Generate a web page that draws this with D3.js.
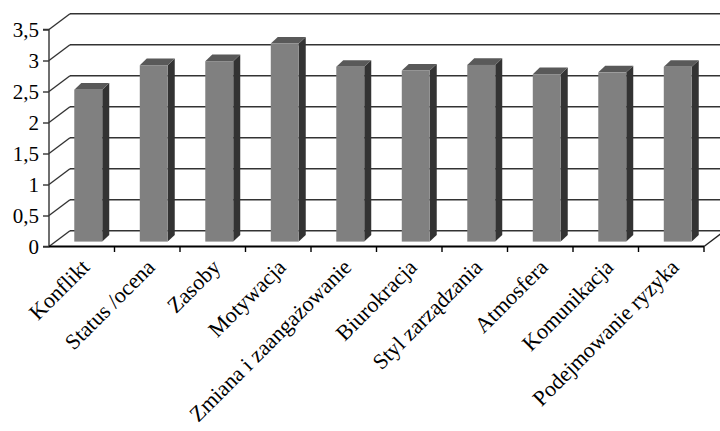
<!DOCTYPE html>
<html><head><meta charset="utf-8">
<script src="https://cdn.jsdelivr.net/npm/d3@7"></script>
<style>html,body{margin:0;padding:0;background:#fff;overflow:hidden}</style>
</head><body>
<svg id="c" width="720" height="431"></svg>
<script>
const categories = ["Konflikt","Status /ocena","Zasoby","Motywacja","Zmiana i zaangażowanie","Biurokracja","Styl zarządzania","Atmosfera","Komunikacja","Podejmowanie ryzyka"];
const values = [2.45, 2.845, 2.91, 3.195, 2.82, 2.76, 2.85, 2.70, 2.73, 2.82];
const yTicks = [0, 0.5, 1, 1.5, 2, 2.5, 3, 3.5];
const yTickLabels = ["0","0,5","1","1,5","2","2,5","3","3,5"];

const svg = d3.select("#c");
const x0 = 49, x1 = 704;
const y = d3.scaleLinear().domain([0, 3.5]).range([246.5, 29.5]);
const x = d3.scaleBand().domain(categories).range([x0, x1]).paddingInner(0.573).paddingOuter(0.2865);
const DX = 21, DY = -15.8;          // full floor depth
const f0 = 0.31;                     // bar front depth fraction
const bdx = 7, bdy = -6.6;           // bar depth
const font = "'Liberation Serif','Times New Roman',serif";

// back wall gridlines
const g = svg.append("g");
yTicks.forEach(t => {
  g.append("line").attr("x1", x0 + DX).attr("x2", x1 + DX).attr("y1", y(t) + DY).attr("y2", y(t) + DY)
    .attr("stroke", "#333").attr("stroke-width", 1.4);
  g.append("line").attr("x1", x0).attr("x2", x0 + DX).attr("y1", y(t)).attr("y2", y(t) + DY)
    .attr("stroke", "#333").attr("stroke-width", 1.4);
});
// floor right slant
g.append("line").attr("x1", x1).attr("x2", x1 + DX).attr("y1", y(0)).attr("y2", y(0) + DY)
  .attr("stroke", "#222").attr("stroke-width", 1.4);

// y axis
const yAxis = d3.axisLeft(y).tickValues(yTicks).tickFormat((d, i) => yTickLabels[i]).tickSize(6).tickPadding(4);
const ya = svg.append("g").attr("transform", `translate(${x0},0)`).call(yAxis);
ya.select(".domain").attr("stroke", "#333").attr("stroke-width", 1.4).attr("d", `M-6,${y(3.5)}H0V${y(0)}H-6`);
ya.selectAll(".tick line").attr("stroke", "#333").attr("stroke-width", 1.4);
ya.selectAll("text").attr("font-family", font).attr("font-size", 21).attr("fill", "#000").attr("dy", "0.34em");

// x axis
const xa = svg.append("g").attr("transform", `translate(0,${y(0)})`);
xa.append("line").attr("x1", x0).attr("x2", x1).attr("stroke", "#000").attr("stroke-width", 2.2);
const step = x.step();
categories.forEach((c, i) => {
  const bx = x0 + step * (i + 1);
  xa.append("line").attr("x1", bx).attr("x2", bx).attr("y1", 0).attr("y2", 5.5).attr("stroke", "#000").attr("stroke-width", 1.4);
});

// bars
const bars = svg.append("g").selectAll("g").data(categories).join("g");
bars.each(function(c, i) {
  const gg = d3.select(this);
  const xl = x(c) + f0 * DX, w = x.bandwidth();
  const yb = y(0) + f0 * DY, yt = y(values[i]) + f0 * DY;
  gg.append("path").attr("d", `M${xl + w},${yt}L${xl + w + bdx},${yt + bdy}L${xl + w + bdx},${yb + bdy}L${xl + w},${yb}Z`).attr("fill", "#333333");
  gg.append("path").attr("d", `M${xl},${yt}L${xl + bdx},${yt + bdy}L${xl + w + bdx},${yt + bdy}L${xl + w},${yt}Z`).attr("fill", "#595959");
  gg.append("rect").attr("x", xl).attr("y", yt).attr("width", w).attr("height", yb - yt).attr("fill", "#808080");
});

// category labels
svg.append("g").selectAll("text").data(categories).join("text")
  .attr("transform", c => `translate(${x(c) + x.bandwidth() / 2 + 9},${y(0) + 22}) rotate(-45)`)
  .attr("text-anchor", "end").attr("font-family", font).attr("font-size", 22).attr("fill", "#000")
  .text(c => c);
</script>
</body></html>
